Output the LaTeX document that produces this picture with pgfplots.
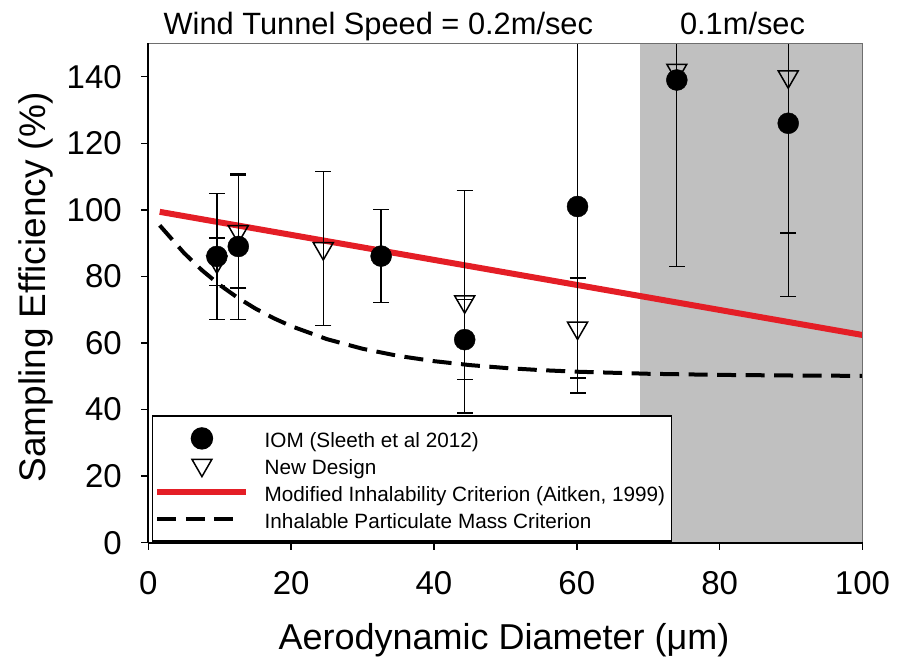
\documentclass[border=0pt]{standalone}
\usepackage{fontspec}
\setmainfont{Liberation Sans}
\usepackage{pgfplots}
\pgfplotsset{compat=1.18}
\definecolor{critred}{RGB}{228,30,38}
\definecolor{shade}{RGB}{192,192,192}
\definecolor{framegray}{RGB}{110,110,110}
\pgfplotsset{
  shortdash legend/.style={legend image code/.code={\draw[##1] (0pt,0pt) -- (76pt,0pt);}},
}

\begin{document}
\begin{tikzpicture}
\path[use as bounding box] (-148.3pt,-126.3pt) rectangle (750.7pt,542.7pt);
\begin{axis}[
  scale only axis,
  width=714.2pt, height=499.3pt,
  xmin=0, xmax=100, ymin=0, ymax=150,
  xtick={0,20,...,100}, ytick={0,20,...,140},
  axis x line*=bottom, axis y line*=left,
  axis line style={line width=1.6pt, black},
  tick align=outside, major tick length=7pt,
  tick style={line width=1.4pt, black},
  /pgf/number format/assume math mode=true,
  tick label style={font=\fontsize{33}{33}\selectfont},
  yticklabel style={xshift=-16pt},
  xticklabel style={yshift=-18pt},
  xlabel={Aerodynamic Diameter (μm)},
  ylabel={Sampling Efficiency (\%)},
  xlabel style={at={(rel axis cs:0.498,0)}, anchor=base, yshift=-107pt, font=\fontsize{36}{36}\selectfont},
  ylabel style={at={(rel axis cs:-0.1445,0.511)}, anchor=base, font=\fontsize{37}{37}\selectfont},
  clip mode=individual,
  axis on top,
  legend cell align=left,
  legend image code/.code={\draw[mark repeat=2,mark phase=2,#1] plot coordinates {(0pt,0pt) (44.5pt,0pt) (89pt,0pt)};},
  legend style={at={(rel axis cs:0.0048,0.002)}, anchor=south west,
    draw=black, line width=1.4pt, fill=white,
    font=\fontsize{20.7}{20.7}\selectfont,
    inner xsep=2pt, inner ysep=11pt, row sep=3.7pt,
    nodes={text height=21pt, text depth=2pt, inner sep=0pt},
    /tikz/every odd column/.append style={column sep=15.3pt}},
]
% shaded region for 0.1 m/sec
\addplot[fill=shade, draw=none, forget plot] coordinates {(68.85,0) (68.85,150) (100,150) (100,0)} -- cycle;

% modified inhalability criterion (Aitken 1999)
\addplot[critred, line width=6pt, forget plot] coordinates {(1.6,99.4) (100,62.4)};

% inhalable particulate mass criterion
\addplot[black, line width=4pt, dash pattern=on 19pt off 9.5pt, forget plot] coordinates {
  (1.6,95.32) (5,87.04) (7.5,81.88) (10,77.44) (12.5,73.62) (15,70.33)
  (17.5,67.50) (20,65.06) (25,61.16) (30,58.26) (35,56.12) (40,54.54)
  (45,53.36) (50,52.49) (55,51.84) (60,51.37) (70,50.75) (80,50.41)
  (90,50.23) (100,50.12)};

% New design
\addplot[only marks, mark=triangle, mark size=11.5pt, black, forget plot,
  mark options={rotate=180, fill=white, draw=black, line width=1.5pt},
  error bars/.cd, y dir=both, y explicit,
  error bar style={line width=1.3pt, black},
  error mark options={rotate=90, line width=1.3pt, mark size=8pt, black}]
coordinates {
  (12.6,93.5) +- (0,17)
};

% IOM (Sleeth et al 2012)
\addplot[only marks, mark=*, mark size=10.5pt, black, forget plot,
  error bars/.cd, y dir=both, y explicit,
  error bar style={line width=1.3pt, black},
  error mark options={rotate=90, line width=1.3pt, mark size=8pt, black}]
coordinates {
  (9.6,86) +- (0,19)
  (12.6,89) +- (0,22)
  (32.6,86.1) +- (0,13.9)
  (44.3,61) +- (0,12)
  (60.1,101) +- (0,56)
  (74.0,139) +- (0,56)
  (89.6,126) +- (0,52)
};

% New design
\addplot[only marks, mark=triangle, mark size=11.5pt, black, forget plot,
  mark options={rotate=180, fill=white, draw=black, line width=1.5pt},
  error bars/.cd, y dir=both, y explicit,
  error bar style={line width=1.3pt, black},
  error mark options={rotate=90, line width=1.3pt, mark size=8pt, black}]
coordinates {
  (9.6,84.4) +- (0,7.1)
  (24.5,88.4) +- (0,23.2)
  (44.3,72.4) +- (0,33.4)
  (60.1,64.5) +- (0,15)
  (74.0,142) +- (0,59)
  (89.6,140) +- (0,47)
};

\draw[framegray, line width=1.4pt] (rel axis cs:0,1) -- (rel axis cs:1,1) -- (rel axis cs:1,0);

\node[anchor=base east, inner sep=0pt, font=\fontsize{30.8}{30.8}\selectfont] at (axis cs:62.3,152.7) {Wind Tunnel Speed = 0.2m/sec};
\node[anchor=base, inner sep=0pt, font=\fontsize{30.8}{30.8}\selectfont] at (axis cs:83.2,152.7) {0.1m/sec};

\addlegendimage{only marks, mark=*, mark size=10.5pt, black}
\addlegendentry{IOM (Sleeth et al 2012)}
\addlegendimage{only marks, mark=triangle, mark size=11.5pt, black, mark options={rotate=180, fill=white, draw=black, line width=1.5pt}}
\addlegendentry{New Design}
\addlegendimage{critred, line width=6pt}
\addlegendentry{\makebox[405pt][l]{Modified Inhalability Criterion (Aitken, 1999)}}
\addlegendimage{black, line width=4pt, dash pattern=on 19pt off 9.5pt, shortdash legend}
\addlegendentry{Inhalable Particulate Mass Criterion}
\end{axis}
\end{tikzpicture}
\end{document}
